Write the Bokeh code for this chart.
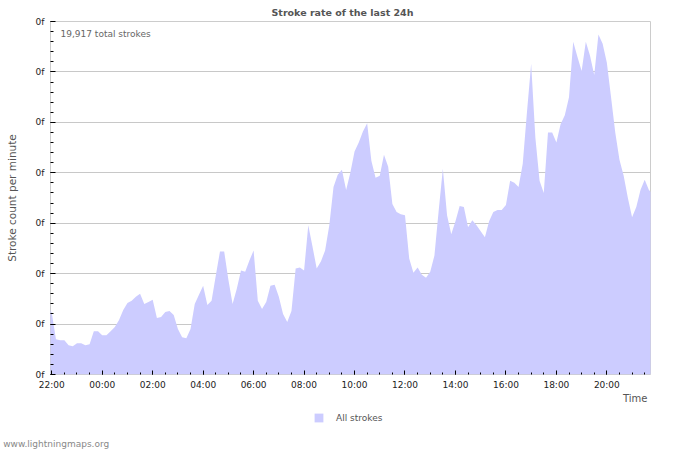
import math
from bokeh.plotting import figure
from bokeh.layouts import column
from bokeh.models import (Range1d, FixedTicker, CustomJSTickFormatter, Label,
                          Legend, LegendItem, ColumnDataSource, Title)
from bokeh.embed import file_html
from bokeh.resources import INLINE

# ---------------- data ----------------
title_text = "Stroke rate of the last 24h"
total_text = "19,917 total strokes"
y_axis_title = "Stroke count per minute"
x_axis_title = "Time"
series_name = "All strokes"
credit_text = "www.lightningmaps.org"

# stroke rate samples, every 10 minutes, first sample 10 min before 22:00
start_minute = -10
step_minutes = 10
rate = [
    7.0, 6.1, 3.5, 3.4, 3.4, 2.9, 2.8, 3.1, 3.1, 2.9,
    3.0, 4.3, 4.3, 3.9, 3.9, 4.3, 4.7, 5.4, 6.4, 7.1,
    7.3, 7.7, 8.0, 7.0, 7.2, 7.4, 5.6, 5.7, 6.2, 6.3,
    5.9, 4.5, 3.7, 3.6, 4.5, 7.0, 7.9, 8.8, 6.9, 7.3,
    9.8, 12.2, 12.2, 9.4, 7.0, 8.5, 10.3, 10.2, 11.3, 12.3,
    7.3, 6.5, 7.2, 8.8, 8.9, 7.7, 6.0, 5.2, 6.3, 10.5,
    10.6, 10.3, 14.8, 12.7, 10.5, 11.2, 12.3, 14.8, 18.6, 19.8,
    20.3, 18.3, 20.0, 22.1, 23.0, 24.1, 24.9, 21.2, 19.5, 19.7,
    21.8, 20.6, 16.9, 16.1, 15.9, 15.8, 11.5, 10.1, 10.6, 9.9,
    9.6, 10.2, 11.8, 16.2, 20.4, 15.8, 13.9, 15.2, 16.7, 16.6,
    14.6, 15.3, 14.8, 14.2, 13.6, 15.2, 16.1, 16.3, 16.3, 16.8,
    19.2, 19.0, 18.6, 20.9, 26.0, 30.8, 23.5, 19.2, 18.0, 24.0,
    24.0, 23.0, 24.8, 25.7, 27.5, 33.0, 31.5, 30.1, 33.0, 31.6,
    29.7, 33.7, 32.8, 30.9, 27.5, 24.0, 21.3, 19.7, 17.5, 15.6,
    16.6, 18.3, 19.3, 18.3, 17.9,
]
hours = [(start_minute + i * step_minutes) / 60.0 for i in range(len(rate))]

x_major = list(range(0, 24, 2))            # hours after 22:00
x_minor = [i * 0.5 for i in range(0, 48)]
y_major = list(range(0, 36, 5))
y_minor = list(range(0, 36))

FONT = "DejaVu Sans"
FILL = "#ccccff"

# ---------------- main figure ----------------
p = figure(width=700, height=405, output_backend="svg", toolbar_location=None,
           title=None, x_range=Range1d(-0.05, 23.73), y_range=Range1d(0, 35),
           min_border_left=50, min_border_right=50, min_border_top=21,
           min_border_bottom=30)
p.frame_align = False
p.background_fill_color = "white"
p.border_fill_color = "white"
p.outline_line_color = "#cccccc"
p.outline_line_width = 1

src = ColumnDataSource(dict(x=hours, y=rate))
r = p.varea(x="x", y1=0, y2="y", source=src, fill_color=FILL, fill_alpha=1.0)

xt = FixedTicker(ticks=x_major, minor_ticks=x_minor)
yt = FixedTicker(ticks=y_major, minor_ticks=y_minor)

xa = p.xaxis[0]
xa.ticker = xt
xa.formatter = CustomJSTickFormatter(
    code="const h=(Math.round(tick)+22)%24; return (h<10?'0':'')+h+':00';")
xa.axis_line_color = None
xa.major_tick_in = 4
xa.major_tick_out = 0
xa.minor_tick_in = 2
xa.minor_tick_out = 0
xa.major_tick_line_color = "#000000"
xa.minor_tick_line_color = "#000000"
xa.major_label_standoff = 5
xa.major_label_text_font = FONT
xa.major_label_text_font_size = "9px"
xa.major_label_text_color = "#222222"

ya = p.yaxis[0]
ya.ticker = yt
ya.formatter = CustomJSTickFormatter(code="return '0f';")
ya.axis_line_color = None
ya.major_tick_in = 5
ya.major_tick_out = 0
ya.minor_tick_in = 3
ya.minor_tick_out = 0
ya.major_tick_line_color = "#000000"
ya.minor_tick_line_color = "#000000"
ya.major_label_standoff = 6
ya.major_label_text_font = FONT
ya.major_label_text_font_size = "9px"
ya.major_label_text_color = "#222222"
ya.axis_label = y_axis_title
ya.axis_label_text_font = FONT
ya.axis_label_text_font_size = "10.5px"
ya.axis_label_text_font_style = "normal"
ya.axis_label_text_color = "#555555"
ya.axis_label_standoff = 15

p.xgrid.visible = False
p.ygrid.ticker = yt
p.ygrid.grid_line_color = "#c8c8c8"
p.ygrid.grid_line_width = 1

p.add_layout(Title(text=title_text, align="left", offset=221, standoff=7,
                   text_font=FONT, text_font_size="9.5px", text_font_style="bold",
                   text_color="#555555"), "above")

p.add_layout(Label(x=10, y=341, x_units="screen", y_units="screen", text=total_text,
                   text_font=FONT, text_font_size="9px", text_color="#666666",
                   text_baseline="middle"))

p.add_layout(Title(text=x_axis_title, align="right", offset=3, standoff=0,
                   vertical_align="top",
                   text_font=FONT, text_font_size="10px", text_font_style="normal",
                   text_color="#555555"), "below")

# ---------------- legend / credit strip ----------------
b = figure(width=700, height=45, output_backend="svg", toolbar_location=None,
           title=None, x_range=Range1d(0, 1), y_range=Range1d(0, 1),
           x_axis_type=None, y_axis_type=None, min_border=0)
b.frame_align = False
b.outline_line_color = None
b.xgrid.visible = False
b.ygrid.visible = False
b.background_fill_color = "white"
b.border_fill_color = "white"
# legend key only (kept outside the visible range of this strip)
key = b.varea(x=[-2.0, -1.0], y1=[0.0, 0.0], y2=[1.0, 1.0],
              fill_color=FILL, fill_alpha=1.0)

legend = Legend(items=[LegendItem(label=series_name, renderers=[key])],
                location=(313, 27), padding=0, margin=0, spacing=0,
                glyph_width=11, glyph_height=11, label_height=11,
                label_standoff=12, border_line_color=None,
                background_fill_alpha=0, label_text_font=FONT,
                label_text_font_size="9px", label_text_color="#555555")
b.add_layout(legend)

b.add_layout(Label(x=2.7, y=7, x_units="screen", y_units="screen", text=credit_text,
                   text_font=FONT, text_font_size="9px", text_color="#888888",
                   text_baseline="middle"))

layout = column(p, b, spacing=0)
open("out.html", "w").write(file_html(layout, INLINE))
